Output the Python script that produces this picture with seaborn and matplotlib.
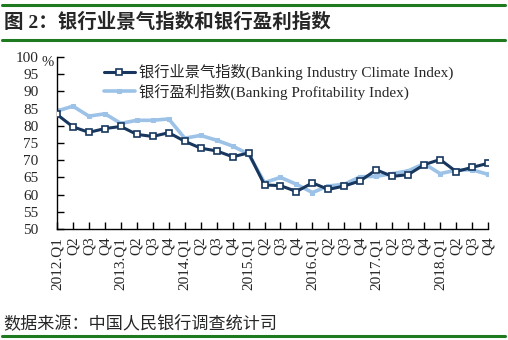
import matplotlib
matplotlib.use("Agg")
import matplotlib.pyplot as plt
from matplotlib.lines import Line2D
import seaborn as sns
import pandas as pd

# ---- data ----
years = ["2012", "2013", "2014", "2015", "2016", "2017", "2018"]
quarters = ["Q1", "Q2", "Q3", "Q4"]
tick_labels = [(f"{y}.{q}" if q == "Q1" else q) for y in years for q in quarters]

climate_index = [83.3, 79.7, 78.1, 79.2, 79.8, 77.5, 76.9, 78.0,
                 75.5, 73.5, 72.7, 71.0, 72.1, 62.8, 62.6, 60.9,
                 63.4, 61.5, 62.5, 64.0, 67.2, 65.3, 65.8, 68.7,
                 70.2, 66.7, 67.9, 69.1]
profit_index = [84.3, 85.7, 82.8, 83.5, 80.7, 81.6, 81.6, 82.0,
                76.4, 77.2, 75.8, 74.1, 71.8, 63.5, 65.0, 63.0,
                60.6, 62.5, 63.0, 65.2, 65.3, 66.1, 66.9, 69.0,
                66.1, 67.1, 67.2, 65.9]
name_climate = "银行业景气指数(Banking Industry Climate Index)"
name_profit = "银行盈利指数(Banking Profitability Index)"
title = "图 2：银行业景气指数和银行盈利指数"
source = "数据来源：中国人民银行调查统计司"

sns.set_style("ticks")
FAM = ["Liberation Serif", "Noto Sans CJK SC", "DejaVu Sans"]
plt.rcParams["font.family"] = FAM

DARK = "#17375E"
LIGHT = "#9CC2E8"
GREEN = "#1E7A1E"

pos = list(range(len(tick_labels)))
df = pd.DataFrame({"pos": pos, "climate": climate_index, "profit": profit_index})

fig = plt.figure(figsize=(5.08, 3.4), dpi=100)
ax = fig.add_axes([57 / 508, 1 - 229 / 340, 431 / 508, 172 / 340])

sns.lineplot(data=df, x="pos", y="profit", ax=ax, color=LIGHT, linewidth=2.6,
             marker="s", markersize=3, markeredgecolor=LIGHT, markerfacecolor=LIGHT,
             label=name_profit, zorder=2)
sns.lineplot(data=df, x="pos", y="climate", ax=ax, color=DARK, linewidth=2.2,
             marker="s", markersize=4.6, markeredgecolor=DARK, markerfacecolor="white",
             markeredgewidth=1.2, label=name_climate, zorder=3)

ax.set_xlim(0, len(pos) - 1)
ax.set_ylim(50, 100)
ax.set_yticks(range(50, 101, 5))
ax.set_xticks(pos)
ax.set_xticklabels(tick_labels, rotation=90, fontsize=11)
ax.tick_params(axis="y", labelsize=11, pad=13.5)
ax.tick_params(direction="in", length=5, width=1, color="black")
ax.tick_params(axis="x", pad=5.5)
ax.set_xlabel("")
ax.set_ylabel("")
for s in ["top", "right"]:
    ax.spines[s].set_visible(False)
for s in ["left", "bottom"]:
    ax.spines[s].set_color("black")
    ax.spines[s].set_linewidth(1)

h, l = ax.get_legend_handles_labels()
order = [l.index(name_climate), l.index(name_profit)]
ax.legend([h[i] for i in order], [l[i] for i in order], loc="upper left",
          bbox_to_anchor=((104 - 57) / 431, (229 - 64) / 172), frameon=False,
          fontsize=11, handlelength=2.0, handletextpad=0.3, borderpad=0,
          borderaxespad=0, labelspacing=0.2)

fig.text(41 / 508, 1 - 63 / 340, "%", fontsize=10.5, va="center", ha="left")
fig.text(4 / 508, 1 - 22 / 340, title, fontsize=14, fontweight="bold",
         va="center", ha="left")
fig.text(3 / 508, 1 - 324 / 340, source, fontsize=12.3, va="center", ha="left")

for y in [4.5, 40, 336]:
    fig.add_artist(Line2D([2 / 508, 505 / 508], [1 - y / 340, 1 - y / 340],
                          transform=fig.transFigure, color=GREEN, linewidth=2.2))

fig.savefig("out.png", dpi=100)
